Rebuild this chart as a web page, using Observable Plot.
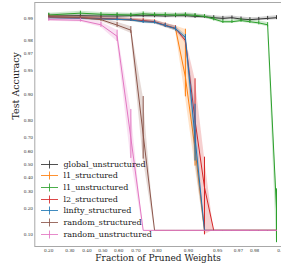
<!DOCTYPE html>
<html><head><meta charset="utf-8">
<script src="https://cdn.jsdelivr.net/npm/d3@7"></script>
<script src="https://cdn.jsdelivr.net/npm/@observablehq/plot@0.6"></script>
<style>
html,body{margin:0;padding:0;background:#fff;overflow:hidden;width:281px;height:270px;}
#wrap{position:relative;width:290px;height:270px;}
#legend{position:absolute;left:41px;top:158.5px;font-family:"DejaVu Serif";font-size:8px;color:#222;}
.row{display:flex;align-items:center;height:11.67px;white-space:nowrap;}
.row svg{margin-right:5.5px;}
</style></head><body><div id="wrap"></div>
<script>
const seriesNames = ["global_unstructured","l1_structured","l1_unstructured","l2_structured","linfty_structured","random_structured","random_unstructured"];
const seriesColors = ["#333333","#ff7f0e","#2ca02c","#d62728","#1f77b4","#8c564b","#e377c2"];
const fractions = [0.2,0.36,0.488,0.5904,0.6723,0.7379,0.7903,0.8322,0.8658,0.8926,0.9141,0.9313,0.9450,0.9560,0.9648,0.9719,0.9775,0.9820,0.9856,0.9885];

const globalUnstructuredMean = [0.9907,0.9908,0.9907,0.9907,0.9908,0.9908,0.9908,0.9907,0.9908,0.9908,0.9906,0.9905,0.9902,0.9900,0.9902,0.9898,0.9896,0.9898,0.9900,0.9902];
const globalUnstructuredStd  = [0.0006,0.0005,0.0005,0.0006,0.0005,0.0006,0.0006,0.0005,0.0006,0.0006,0.0006,0.0005,0.0006,0.0006,0.0005,0.0006,0.0006,0.0005,0.0006,0.0006];
const l1StructuredMean = [0.9903,0.9901,0.9899,0.9897,0.9895,0.9891,0.9888,0.9876,0.9863,0.940,0.62,0.1135,0.1135,0.1135,0.1135,0.1135,0.1135,0.1135,0.1135,0.1135];
const l1StructuredStd  = [0.0004,0.0004,0.0004,0.0005,0.0005,0.0006,0.0006,0.0008,0.0010,0.046,0.13,0,0,0,0,0,0,0,0,0];
const l1UnstructuredMean = [0.9910,0.9915,0.9912,0.9911,0.9910,0.9913,0.9911,0.9911,0.9910,0.9911,0.9909,0.9906,0.9898,0.9889,0.9889,0.9893,0.9889,0.9885,0.9878,0.20];
const l1UnstructuredStd  = [0.0005,0.0005,0.0005,0.0005,0.0005,0.0005,0.0005,0.0005,0.0005,0.0005,0.0005,0.0005,0.0006,0.0006,0.0006,0.0006,0.0006,0.0007,0.0008,0.12];
const l2StructuredMean = [0.9904,0.9902,0.9900,0.9898,0.9896,0.9893,0.9889,0.9876,0.9864,0.9801,0.80,0.33,0.1135,0.1135,0.1135,0.1135,0.1135,0.1135,0.1135,0.1135];
const l2StructuredStd  = [0.0004,0.0004,0.0004,0.0005,0.0005,0.0006,0.0006,0.0008,0.0010,0.0015,0.137,0.23,0,0,0,0,0,0,0,0];
const linftyStructuredMean = [0.9902,0.9900,0.9898,0.9897,0.9895,0.9889,0.9887,0.9875,0.9862,0.9820,0.70,0.1135,0.1135,0.1135,0.1135,0.1135,0.1135,0.1135,0.1135,0.1135];
const linftyStructuredStd  = [0.0004,0.0004,0.0004,0.0005,0.0005,0.0006,0.0006,0.0008,0.0010,0.0015,0.17,0,0,0,0,0,0,0,0,0];
const randomStructuredMean = [0.9904,0.9902,0.9896,0.9877,0.9856,0.72,0.1135,0.1135,0.1135,0.1135,0.1135,0.1135,0.1135,0.1135,0.1135,0.1135,0.1135,0.1135,0.1135,0.1135];
const randomStructuredStd  = [0.0005,0.0005,0.0006,0.0010,0.0015,0.175,0,0,0,0,0,0,0,0,0,0,0,0,0,0];
const randomUnstructuredMean = [0.9896,0.9894,0.9878,0.9826,0.70,0.1135,0.1135,0.1135,0.1135,0.1135,0.1135,0.1135,0.1135,0.1135,0.1135,0.1135,0.1135,0.1135,0.1135,0.1135];
const randomUnstructuredStd  = [0.0005,0.0006,0.0010,0.0030,0.15,0,0,0,0,0,0,0,0,0,0,0,0,0,0,0];

const xTicks = [0.2,0.3,0.4,0.5,0.6,0.7,0.8,0.9,0.95,0.97,0.98,0.99];
const yTicks = [0.1,0.2,0.3,0.4,0.5,0.6,0.7,0.8,0.9,0.95,0.97,0.98,0.99];
const xDomain = [0.1487,0.9913];
const yDomain = [0.0716,0.9939];
const xLabel = "Fraction of Pruned Weights";
const yLabel = "Test Accuracy";

const means = [globalUnstructuredMean,l1StructuredMean,l1UnstructuredMean,l2StructuredMean,linftyStructuredMean,randomStructuredMean,randomUnstructuredMean];
const stds = [globalUnstructuredStd,l1StructuredStd,l1UnstructuredStd,l2StructuredStd,linftyStructuredStd,randomStructuredStd,randomUnstructuredStd];

const logit = p => Math.log(p/(1-p));
const expit = L => 1/(1+Math.exp(-L));
const clamp = p => Math.min(0.99995, Math.max(0.00005, p));
const fmt = d3.format(".2f");

const marks = [];
seriesNames.forEach((name, s) => {
  const rows = fractions.map((x, i) => ({
    series: name, x, mean: means[s][i],
    lo: clamp(means[s][i] - stds[s][i]), hi: clamp(means[s][i] + stds[s][i])
  }));
  const col = seriesColors[s];
  marks.push(Plot.areaY(rows, {x: d => logit(d.x), y1: d => logit(d.lo), y2: d => logit(d.hi), fill: col, fillOpacity: 0.22}));
  marks.push(Plot.lineY(rows, {x: d => logit(d.x), y: d => logit(d.mean), stroke: col, strokeWidth: 1}));
  marks.push(Plot.ruleX(rows, {x: d => logit(d.x), y1: d => logit(d.lo), y2: d => logit(d.hi), stroke: col, strokeWidth: 1}));
});

const chart = Plot.plot({
  width: 290, height: 270,
  marginLeft: 34.3, marginRight: 3, marginTop: 2, marginBottom: 24,
  style: {fontFamily: "DejaVu Serif", background: "#fff", color: "#333"},
  x: {type: "linear", domain: xDomain.map(logit)},
  y: {type: "linear", domain: yDomain.map(logit)},
  marks: [
    ...marks,
    Plot.frame({stroke: "#a8a8a8", strokeWidth: 1}),
    Plot.axisX({ticks: xTicks.map(logit), tickFormat: L => fmt(expit(L)), tickSize: 0, tickPadding: 3, fontSize: 4.2, label: null}),
    Plot.axisY({ticks: yTicks.map(logit), tickFormat: L => fmt(expit(L)), tickSize: 0, tickPadding: 1.8, fontSize: 4.2, label: null}),
    Plot.text([xLabel], {text: d => d, frameAnchor: "bottom", dy: 14.5, fontSize: 9, fill: "#222", dx: -3}),
    Plot.text([yLabel], {text: d => d, frameAnchor: "left", rotate: -90, dx: -19, dy: -5, fontSize: 9.5, fill: "#222"})
  ]
});
const wrap = document.getElementById("wrap");
wrap.appendChild(chart);

const legend = document.createElement("div");
legend.id = "legend";
seriesNames.forEach((name, s) => {
  const row = document.createElement("div");
  row.className = "row";
  const c = seriesColors[s];
  row.innerHTML = `<svg width="17" height="11" viewBox="0 0 17 11"><line x1="0" y1="5.5" x2="17" y2="5.5" stroke="${c}" stroke-width="1" opacity="0.85"/><line x1="8.5" y1="1.5" x2="8.5" y2="9.5" stroke="${c}" stroke-width="1" opacity="0.85"/></svg><span>${name}</span>`;
  legend.appendChild(row);
});
wrap.appendChild(legend);
</script></body></html>
